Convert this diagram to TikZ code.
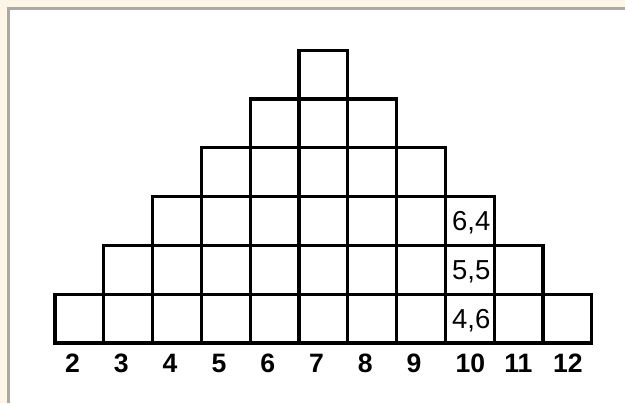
\documentclass[tikz,border=0pt]{standalone}
\usepackage{fontspec}
\setmainfont{Liberation Sans}
\usetikzlibrary{positioning}
\definecolor{paper}{HTML}{FDF5E6}
\definecolor{frameline}{HTML}{A9A9A9}

\begin{document}
\begin{tikzpicture}[
  cell/.style={draw, line width=1.8pt, minimum size=1cm, inner sep=0pt, outer sep=0pt},
  pair/.style={font=\fontsize{16}{18}\selectfont},
  total/.style={font=\fontsize{15.5}{18}\selectfont\bfseries, inner sep=0pt, anchor=west}
]
  \useasboundingbox (-1.127,-1.23) rectangle (11.68,7.029);
  \fill[paper] (-1.127,-1.23) rectangle (11.68,7.029);
  \fill[white] (-0.94,-1.23) rectangle (11.68,6.84);
  \draw[frameline, line width=0.05cm] (-0.955,-1.23) -- (-0.955,6.855) -- (11.68,6.855);

  % one column of cells per sum
  \foreach \s [count=\i from 0] in {2,...,12} {
    \pgfmathtruncatemacro{\h}{6-abs(\s-7)}
    \foreach \r in {1,...,\h}
      \node[cell] (c\s-\r) at (\i+0.5,\r-0.5) {};
    \node[total] (sum\s) at (\i+0.2,-0.42) {\s};
  }

  \node[pair] (p46) at ([xshift=0.03cm, yshift=-0.04cm]c10-1) {4,6};
  \node[pair] (p55) at ([xshift=0.03cm, yshift=-0.04cm]c10-2) {5,5};
  \node[pair] (p64) at ([xshift=0.03cm, yshift=-0.04cm]c10-3) {6,4};
\end{tikzpicture}
\end{document}
